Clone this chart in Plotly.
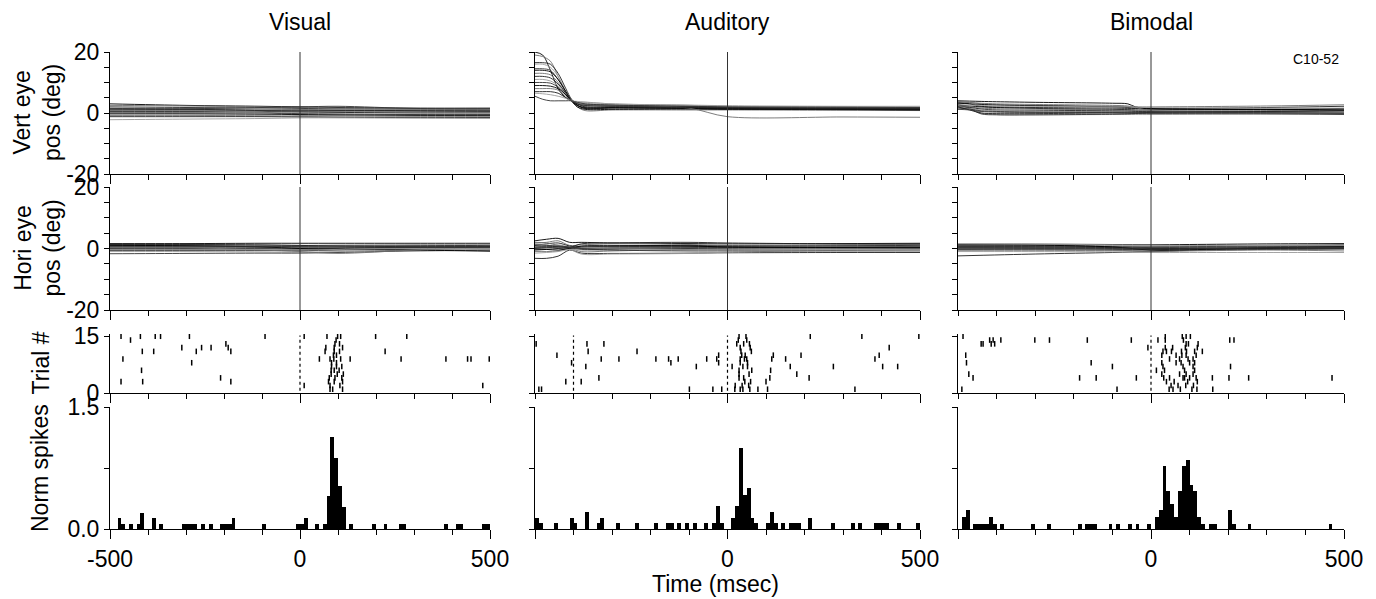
import plotly.graph_objects as go

# page is drawn with the browser's default 8 px body margin, so the figure is
# sized to the visible window minus that offset and all pixel positions are shifted
OFFSET = 8
W, H = 1376 - OFFSET, 599 - OFFSET
FONT = "Liberation Sans, Arial, Helvetica, sans-serif"

COLUMNS = ["Visual", "Auditory", "Bimodal"]
ROW_LABELS = ["Vert eye<br>pos (deg)", "Hori eye<br>pos (deg)", "Trial #", "Norm spikes"]
X_MAJOR = [-500, 0, 500]
X_MAJOR_TEXT_FIRST = ["-500", "0", "500"]
X_MAJOR_TEXT_OTHER = ["", "0", "500"]
X_MINOR_STEP = 100
EYE_TICKS = [-20, -15, -10, -5, 0, 5, 10, 15, 20]
EYE_TICK_TEXT = ["-20", "", "", "", "0", "", "", "", "20"]
CELL_ID = "C10-52"

# ---------------- eye traces (time grid + one list per trial) ----------------
VIS_VERT_T = [-500, -300, -100, 0, 100, 300, 500]
VIS_VERT = [
    [3.0, 2.5, 2.2, 2.0, 1.8, 1.6, 1.6], [2.5, 2.3, 2.0, 1.8, 1.6, 1.5, 1.4],
    [2.0, 1.8, 1.6, 1.5, 1.3, 1.2, 1.2], [1.6, 1.5, 1.4, 1.2, 1.1, 1.0, 1.0],
    [1.3, 1.2, 1.0, 1.0, 0.9, 0.8, 0.8], [1.0, 1.0, 0.8, 0.7, 0.7, 0.6, 0.5],
    [0.8, 0.7, 0.6, 0.5, 0.4, 0.3, 0.3], [0.5, 0.5, 0.4, 0.3, 0.2, 0.0, 0.0],
    [0.2, 0.2, 0.3, -0.8, -0.8, -0.5, -0.3], [0.0, 0.0, 0.0, -0.2, -0.3, -0.5, -0.5],
    [-0.3, -0.3, -0.4, -0.5, -0.6, -0.8, -0.8], [-0.8, -0.8, -0.9, -1.0, -1.0, -1.1, -1.1],
    [-1.2, -1.2, -1.2, -1.3, -1.4, -1.5, -1.5], [-2.2, -2.0, -1.8, -1.6, -1.6, -1.7, -1.8],
    [1.5, 1.4, 1.8, 2.0, 2.2, 1.5, 1.4],
]
VIS_HORI_T = [-500, -300, -100, 0, 100, 300, 500]
VIS_HORI = [
    [1.6, 1.6, 1.7, 1.7, 1.7, 1.7, 1.7], [1.2, 1.1, 1.0, 1.0, 1.1, 1.2, 1.2],
    [0.8, 0.8, 0.7, 0.7, 0.8, 0.9, 1.0], [0.5, 0.5, 0.4, 0.3, 0.4, 0.6, 0.7],
    [0.2, 0.2, 0.2, 0.1, 0.2, 0.4, 0.5], [0.0, 0.0, -0.1, -0.2, 0.0, 0.2, 0.3],
    [-0.3, -0.3, -0.4, -0.4, -0.2, 0.0, 0.1], [-0.6, -0.6, -0.6, -0.7, -0.5, -0.2, -0.1],
    [-1.0, -1.0, -1.1, -1.2, -1.0, -0.5, -0.3], [-1.7, -1.6, -1.5, -1.5, -1.3, -0.8, -0.6],
    [1.0, 0.9, 0.5, 0.0, -0.3, -0.5, -0.9], [0.4, 0.3, -0.5, -1.0, -1.6, -0.5, 0.2],
    [1.3, 1.3, 1.2, 1.0, 0.8, 0.6, 0.6], [-0.2, -0.2, -0.3, -0.5, -0.3, 0.0, 0.0],
    [0.6, 0.6, 0.6, 0.5, 0.5, 0.4, 0.4],
]
AUD_VERT_T = [-500, -480, -460, -440, -420, -405, -390, -370, -300, -100, 0, 300, 500]
AUD_VERT = [
    [20, 19, 14, 8, 5, 4, 2.5, 1.5, 1.7, 1.5, 1.3, 1.2, 1.2],
    [19, 18.5, 17, 12, 7, 4, 2, 0.8, 1.0, 1.0, 1.0, 0.9, 0.8],
    [16.5, 16.5, 16, 13, 8, 4.5, 3, 2.5, 2.3, 2.0, 1.8, 1.6, 1.5],
    [16, 16, 15, 12, 7, 4, 3.5, 3.2, 2.8, 2.5, 2.2, 1.9, 1.8],
    [14.5, 14.5, 14, 11, 7, 4, 3, 2.8, 2.5, 2.2, 2.0, 1.8, 1.7],
    [14, 14, 13.5, 11, 7, 4, 2, 1.2, 1.2, 1.3, 1.2, 1.1, 1.0],
    [13, 13, 12.5, 10, 6.5, 4, 3, 2.2, 2.0, 1.8, 1.6, 1.4, 1.3],
    [12, 12, 11.5, 9.5, 6.5, 4, 2.5, 1.5, 1.6, 1.5, 1.3, 1.2, 1.0],
    [11, 11, 10.5, 9, 6, 4, 3.5, 3.5, 3.0, 2.5, 2.2, 2.0, 2.0],
    [10, 10, 9.8, 8.5, 6, 4, 3, 2.5, 2.3, 2.0, 1.8, 1.6, 1.5],
    [9, 9, 8.8, 8, 6, 4, 2.5, 1.8, 1.8, 1.6, 1.5, 1.3, 1.2],
    [8, 8, 8, 7.5, 5.5, 4, 3.2, 2.8, 2.5, 1.6, -1.2, -1.3, -1.4],
    [7, 7, 7, 6.5, 5, 4, 3, 2, 2.0, 1.8, 1.6, 1.4, 1.3],
    [6.5, 6.3, 6, 5.5, 4.8, 4, 3.8, 3.6, 3.0, 2.6, 2.4, 2.2, 2.2],
    [5.5, 4.5, 4, 4, 4, 4, 3.5, 3, 2.6, 2.2, 2.0, 1.9, 1.8],
]
AUD_HORI_T = [-500, -470, -440, -410, -380, -300, -100, 0, 300, 500]
AUD_HORI = [
    [2.5, 3.0, 3.3, 2.0, 2.0, 1.8, 1.6, 1.5, 1.6, 1.7],
    [1.8, 2.0, 2.5, 1.0, 1.2, 1.5, 1.3, 1.0, 1.2, 1.3],
    [1.0, 1.5, 1.8, 0.8, 0.5, 0.8, 1.0, 0.8, 0.9, 1.0],
    [0.5, 0.8, 1.2, 0.5, 0.3, 0.5, 0.5, 0.5, 0.6, 0.7],
    [0.0, 0.2, 0.5, 0.3, 0.0, 0.2, 0.3, 0.3, 0.4, 0.5],
    [-0.5, -0.3, 0.0, 0.2, -0.3, -0.2, 0.0, 0.1, 0.2, 0.3],
    [-1.0, -1.0, -0.8, 0.0, -1.0, -0.8, -0.3, -0.2, 0.0, 0.0],
    [-3.2, -3.2, -2.5, -0.5, -1.5, -1.6, -1.5, -1.4, -1.3, -1.3],
    [1.5, 1.2, 0.5, -0.2, -1.8, -1.8, -1.6, -1.2, -0.6, -0.3],
    [0.3, 0.3, 0.2, 0.1, 0.5, 0.6, 0.7, 0.6, 0.5, 0.5],
    [-0.2, -0.3, -0.5, 0.0, 0.8, 0.9, 0.8, 0.5, 0.3, 0.2],
    [2.0, 1.8, 1.0, 0.3, 0.0, 0.0, -0.2, -0.3, -0.2, -0.2],
    [0.8, 0.7, 0.6, 0.4, 1.5, 1.8, 2.0, 1.8, 1.5, 1.5],
    [-1.5, -1.3, -1.0, -0.3, -0.5, -0.6, -0.5, -0.5, -0.4, -0.4],
    [1.2, 1.0, 0.8, 0.5, 0.0, -0.5, -0.8, -0.8, -0.8, -0.8],
]
BIM_VERT_T = [-500, -470, -440, -400, -300, -100, -60, -40, 0, 300, 500]
BIM_VERT = [
    [4.0, 3.9, 3.8, 3.7, 3.5, 3.2, 3.0, 2.0, 1.5, 1.2, 1.0],
    [3.8, 3.5, 3.0, 2.8, 2.5, 2.2, 2.1, 2.0, 2.0, 2.3, 2.7],
    [3.5, 3.0, 2.2, 2.0, 1.8, 1.6, 1.5, 1.5, 1.4, 1.8, 2.2],
    [3.0, 2.0, 0.0, -0.5, -0.6, -0.5, -0.5, -0.5, -0.5, -0.3, -0.2],
    [2.8, 1.5, -0.3, -0.6, -0.6, -0.4, -0.3, -0.2, -0.2, -0.3, -0.5],
    [2.5, 2.3, 2.0, 1.8, 1.5, 1.2, 1.1, 1.0, 1.0, 1.2, 1.5],
    [2.3, 2.0, 1.6, 1.4, 1.3, 1.0, 0.9, 0.8, 0.7, 0.8, 1.0],
    [2.0, 1.8, 1.3, 1.0, 0.9, 0.7, 0.6, 0.5, 0.5, 0.5, 0.6],
    [1.8, 1.5, 1.0, 0.8, 0.6, 0.4, 0.3, 0.2, 0.2, 0.2, 0.3],
    [1.6, 1.3, 0.7, 0.5, 0.3, 0.1, 0.0, 0.0, 0.0, 0.0, 0.0],
    [3.2, 3.0, 2.8, 2.6, 2.4, 2.0, 1.8, 1.6, 1.4, 1.2, 1.0],
    [3.6, 3.4, 3.2, 3.0, 2.8, 2.5, 2.3, 1.8, 0.8, 0.5, 0.3],
    [2.0, 1.0, 0.0, -0.2, -0.2, 0.0, 0.0, 0.0, 0.2, 0.5, 0.8],
    [2.6, 2.6, 2.5, 2.3, 2.2, 2.0, 2.0, 1.9, 1.8, 1.6, 1.6],
    [1.2, 1.0, 0.5, 0.3, 0.2, 0.3, 0.3, 0.3, 0.3, 0.1, -0.1],
]
BIM_HORI_T = [-500, -300, -100, 0, 100, 300, 500]
BIM_HORI = [
    [1.4, 1.4, 1.3, 1.2, 1.3, 1.5, 1.6], [1.0, 1.0, 0.9, 0.8, 0.9, 1.1, 1.3],
    [0.6, 0.6, 0.5, 0.5, 0.6, 0.8, 1.0], [0.3, 0.3, 0.2, 0.2, 0.3, 0.5, 0.7],
    [0.0, 0.0, -0.1, -0.1, 0.1, 0.3, 0.4], [-0.3, -0.3, -0.4, -0.4, -0.2, 0.0, 0.1],
    [-0.6, -0.6, -0.7, -0.7, -0.5, -0.3, -0.2], [-2.4, -1.8, -1.3, -1.0, -0.6, -0.3, -0.1],
    [-1.0, -1.0, -1.1, -1.3, -1.3, -1.3, -1.3], [0.8, 0.8, 0.6, 0.3, 0.4, 0.6, 0.8],
    [1.2, 1.1, 0.5, -0.5, -0.4, 0.2, 0.6], [-0.1, -0.2, -0.5, -1.0, -0.8, -0.5, -0.8],
    [0.4, 0.4, 0.3, 0.0, 0.0, 0.1, 0.2], [1.5, 1.4, 1.2, 1.0, 0.9, 1.0, 1.0],
    [0.2, 0.1, 0.0, -0.2, -0.1, 0.2, 0.4],
]

# ---------------- spike rasters: spike times (ms) per trial, trial 1 .. 15 ----------------
VIS_SPIKES = [
    [79, 86, 112],
    [11, 79, 105, 481],
    [-471, -414, -182, 75, 90, 112],
    [-209, 77, 92, 110],
    [82, 98, 114],
    [-417, 82, 90, 103],
    [83, 96, 110],
    [-285, 83, 96],
    [-466, 51, 79, 89, 107, 132, 266, 384, 441, 450, 498],
    [88, 96],
    [-415, -385, -273, -182, 66, 90, 104, 224],
    [-311, -259, -234, -189, 68, 90, 112],
    [-195, 92, 104],
    [-446, 95],
    [-471, -420, -381, -367, -291, -92, 11, 71, 99, 107, 199, 281],
]
AUD_SPIKES = [
    [-490, -483, -99, -38, -15, 19, 33, 40, 58, 79, 104, 331],
    [20, 38, 55],
    [-420, -380, 45, 60, 100],
    [-334, 30, 42, 110, 212],
    [30, 56, 180],
    [30, 63, 112],
    [-368, -81, 12, 40, 52, 163, 275, 403, 442],
    [-405, -147, -23, 33, 52],
    [-328, -282, -186, -153, -128, -54, -28, 33, 44, 50, 115, 151, 383],
    [-443, -23, 37, 46, 119, 191, 394],
    [-362, -235, 35, 62],
    [33, 59, 420],
    [-497, -365, -321, 24, 42, 57],
    [28, 50],
    [30, 48, 215, 349, 497],
]
BIM_SPIKES = [
    [-490, -88, 47, 57, 76, 106, 119, 160],
    [52, 70, 90, 110],
    [40, 60, 95, 120],
    [-461, -185, -142, -38, 33, 48, 83, 87, 100, 117, 159, 202, 253, 469],
    [-472, 28, 74, 91, 109],
    [14, 35, 87, 113],
    [-100, 31, 83, 109, 206],
    [-478, -155, 28, 65, 78, 100, 113],
    [48, 74, 96, 109],
    [-480, 28, 65, 80, 91, 117],
    [31, 40, 53, 79, 92, 113, 133],
    [-8, 37, 56, 89, 120],
    [-440, -435, -414, -405, 91, 97, 122],
    [-418, -409, -389, -301, -263, -165, -51, 18, 37, 84, 204, 215],
    [-487, 37, 81, 91, 102],
]
# dotted event markers in the rasters (ms)
VIS_EVENTS = [0]
AUD_EVENTS = [-400, 0]
BIM_EVENTS = [0]

# ---------------- histograms: 10 ms bins (left edge) and normalised counts ----------------
BIN_WIDTH = 10
VIS_HIST_BINS = [-480, -470, -450, -430, -420, -390, -370, -310, -300, -290, -280, -260, -240,
                 -210, -200, -190, -180, -100, -10, 0, 10, 40, 60, 70, 80, 90, 100, 110, 130,
                 190, 220, 260, 270, 380, 410, 420, 480, 490]
VIS_HIST_VALS = [0.13, 0.067, 0.067, 0.067, 0.2, 0.13, 0.067, 0.067, 0.067, 0.067, 0.067, 0.067, 0.067,
                 0.067, 0.067, 0.067, 0.13, 0.067, 0.067, 0.067, 0.13, 0.067, 0.067, 0.4, 1.13, 0.87, 0.53, 0.27, 0.067,
                 0.067, 0.067, 0.067, 0.067, 0.067, 0.067, 0.067, 0.067, 0.067]
AUD_HIST_BINS = [-500, -490, -450, -410, -400, -370, -340, -330, -290, -240, -190, -160, -150, -130,
                 -110, -90, -60, -40, -30, -20, 10, 20, 30, 40, 50, 60, 70, 100, 110, 120, 140,
                 160, 170, 180, 210, 270, 320, 340, 380, 390, 400, 410, 440, 490]
AUD_HIST_VALS = [0.14, 0.07, 0.07, 0.14, 0.07, 0.21, 0.07, 0.14, 0.07, 0.07, 0.07, 0.07, 0.07, 0.07,
                 0.07, 0.07, 0.07, 0.07, 0.28, 0.07, 0.14, 0.28, 1.0, 0.42, 0.5, 0.14, 0.07, 0.07, 0.21, 0.07, 0.07,
                 0.07, 0.07, 0.07, 0.14, 0.07, 0.07, 0.07, 0.07, 0.07, 0.07, 0.07, 0.07, 0.07]
BIM_HIST_BINS = [-490, -480, -460, -450, -440, -430, -420, -410, -390, -310, -270, -190, -170, -160,
                 -150, -110, -90, -60, -40, -10, 10, 20, 30, 40, 50, 60, 70, 80, 90, 100, 110, 120,
                 130, 150, 160, 200, 210, 250, 460]
BIM_HIST_VALS = [0.15, 0.23, 0.067, 0.067, 0.067, 0.067, 0.15, 0.067, 0.067, 0.067, 0.067, 0.067, 0.067, 0.067,
                 0.067, 0.067, 0.067, 0.067, 0.067, 0.067, 0.15, 0.23, 0.77, 0.47, 0.31, 0.15, 0.47, 0.77, 0.85, 0.54, 0.47, 0.15,
                 0.067, 0.067, 0.067, 0.23, 0.067, 0.067, 0.067]

EYE_VERT = [(VIS_VERT_T, VIS_VERT), (AUD_VERT_T, AUD_VERT), (BIM_VERT_T, BIM_VERT)]
EYE_HORI = [(VIS_HORI_T, VIS_HORI), (AUD_HORI_T, AUD_HORI), (BIM_HORI_T, BIM_HORI)]
SPIKES = [VIS_SPIKES, AUD_SPIKES, BIM_SPIKES]
EVENTS = [VIS_EVENTS, AUD_EVENTS, BIM_EVENTS]
HISTS = [(VIS_HIST_BINS, VIS_HIST_VALS), (AUD_HIST_BINS, AUD_HIST_VALS), (BIM_HIST_BINS, BIM_HIST_VALS)]

# ---------------- layout geometry (window pixels) ----------------
COL_PX = [(110, 490), (535, 920), (958, 1344)]
ROW_PX = [(52, 174), (187, 310), (334, 393), (407, 529)]
TRACE_COLORS = ["#000000", "#6e6e6e", "#1e1e1e", "#9a9a9a", "#333333"]


def px_x(p):
    return (p - OFFSET) / W


def px_y(p):
    return 1 - (p - OFFSET) / H


def suffix(k):
    return "" if k == 1 else str(k)


fig = go.Figure()
layout = dict(
    width=W, height=H, margin=dict(l=0, r=0, t=0, b=0, pad=0, autoexpand=False),
    paper_bgcolor="white", plot_bgcolor="white", showlegend=False,
    font=dict(family=FONT, size=23, color="black"), bargap=0,
)
annotations = []
shapes = []

for r in range(4):
    for c in range(3):
        k = r * 3 + c + 1
        xa, ya = "x" + suffix(k), "y" + suffix(k)
        x0, x1 = COL_PX[c]
        top, bot = ROW_PX[r]
        xaxis = dict(
            domain=[px_x(x0), px_x(x1)], anchor=ya, range=[-500, 500], automargin=False,
            showline=True, linecolor="black", linewidth=1,
            ticks="outside", ticklen=9, tickwidth=1, tickcolor="black",
            tickmode="array", tickvals=X_MAJOR,
            ticktext=X_MAJOR_TEXT_FIRST if c == 0 else X_MAJOR_TEXT_OTHER,
            minor=dict(ticks="outside", dtick=X_MINOR_STEP, tick0=0, ticklen=5,
                       tickwidth=1, tickcolor="black", showgrid=False),
            showticklabels=(r == 3), showgrid=False, zeroline=False,
            tickfont=dict(size=23, family=FONT),
        )
        yaxis = dict(
            domain=[px_y(bot), px_y(top)], anchor=xa, automargin=False,
            showline=True, linecolor="black", linewidth=1,
            ticks="outside", ticklen=5, tickwidth=1, tickcolor="black",
            showticklabels=(c == 0), showgrid=False, zeroline=False,
            tickfont=dict(size=23, family=FONT), tickmode="array",
        )
        if r < 2:
            t, traces = (EYE_VERT if r == 0 else EYE_HORI)[c]
            yaxis.update(range=[-20, 20], tickvals=EYE_TICKS, ticktext=EYE_TICK_TEXT)
            for i, tr in enumerate(traces):
                fig.add_trace(go.Scatter(
                    x=t, y=tr, mode="lines", xaxis=xa, yaxis=ya, hoverinfo="skip",
                    line=dict(color=TRACE_COLORS[i % len(TRACE_COLORS)], width=0.9,
                              shape="spline", smoothing=0.9)))
            shapes.append(dict(type="line", xref=xa, yref=ya + " domain", x0=0, x1=0, y0=0, y1=1,
                               line=dict(color="#333333", width=1)))
        elif r == 2:
            yaxis.update(range=[0, 15.6], tickvals=[0, 15], ticktext=["0", "15"])
            for ev in EVENTS[c]:
                shapes.append(dict(type="line", xref=xa, yref=ya, x0=ev, x1=ev, y0=0.6, y1=15.2,
                                   line=dict(color="black", width=1.2, dash="dot")))
            xs, ys = [], []
            for trial, times in enumerate(SPIKES[c], start=1):
                xs += times
                ys += [trial] * len(times)
            fig.add_trace(go.Scatter(
                x=xs, y=ys, mode="markers", xaxis=xa, yaxis=ya, hoverinfo="skip",
                marker=dict(symbol="line-ns", size=4, color="black",
                            line=dict(color="black", width=1.5))))
        else:
            yaxis.update(range=[0, 1.5], tickvals=[0, 0.75, 1.5], ticktext=["0.0", "", "1.5"])
            bins, vals = HISTS[c]
            fig.add_trace(go.Bar(
                x=bins, y=vals, width=BIN_WIDTH, offset=0, xaxis=xa, yaxis=ya,
                marker=dict(color="black", line=dict(width=0)), hoverinfo="skip"))
        layout["xaxis" + suffix(k)] = xaxis
        layout["yaxis" + suffix(k)] = yaxis

# column titles
for c, name in enumerate(COLUMNS):
    x0, x1 = COL_PX[c]
    annotations.append(dict(text=name, x=px_x((x0 + x1) / 2), y=px_y(22), xref="paper", yref="paper",
                            showarrow=False, font=dict(size=23), xanchor="center", yanchor="middle"))
# row labels
for r, lab in enumerate(ROW_LABELS):
    top, bot = ROW_PX[r]
    xc = 37 if r < 2 else 40
    annotations.append(dict(text=lab, x=px_x(xc), y=px_y((top + bot) / 2), xref="paper", yref="paper",
                            showarrow=False, textangle=-90, font=dict(size=23),
                            xanchor="center", yanchor="middle"))
annotations.append(dict(text="Time (msec)", x=px_x(715), y=px_y(584), xref="paper", yref="paper",
                        showarrow=False, font=dict(size=23), xanchor="center", yanchor="middle"))
annotations.append(dict(text=CELL_ID, x=px_x(1316), y=px_y(59), xref="paper", yref="paper",
                        showarrow=False, font=dict(size=14), xanchor="center", yanchor="middle"))

layout["annotations"] = annotations
layout["shapes"] = shapes
fig.update_layout(**layout)
fig.write_html("out.html")
